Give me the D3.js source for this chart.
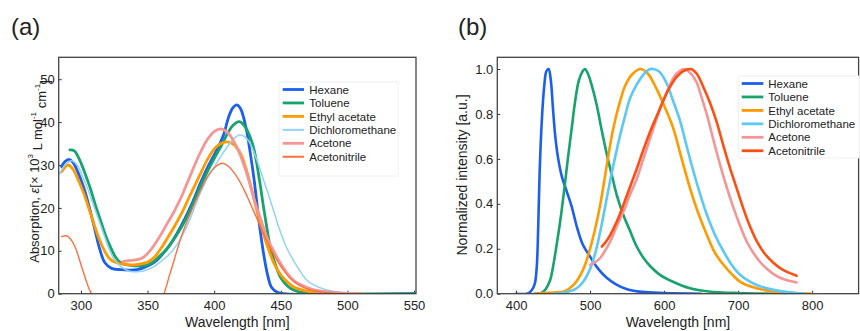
<!DOCTYPE html>
<head>
<meta charset="utf-8">
<style>
body { margin:0; background:#fff; }
text { font-family: 'Liberation Sans', Arial, sans-serif; fill:#222; }
.axis path { display:none; }
.axis line { stroke:#333; stroke-width:1; }
</style>
</head>
<body>
<div id="chart"></div>
<script src="https://d3js.org/d3.v7.min.js"></script>
<script>

// ---- data ----
var solvents = ["Hexane", "Toluene", "Ethyl acetate", "Dichloromethane", "Acetone", "Acetonitrile"];

var absTicksX = [300, 350, 400, 450, 500, 550],
    absTicksY = [0, 10, 20, 30, 40, 50];
var emTicksX = [400, 500, 600, 700, 800],
    emTicksY = [0, 0.2, 0.4, 0.6, 0.8, 1.0];

// (a) absorption, [wavelength nm, eps x10^3]
var absHexane = [[285.5,29.6],[288,30.8],[291,31.3],[294,30.6],[298,28.1],[302,24.8],[306,20.5],[310,15.5],[314,10.5],[318,7.2],[323,5.9],[330,5.6],[336,5.5],[342,5.6],[348,6.2],[355,7.3],[360,8.8],[366,11],[372,14],[378,17.5],[384,21.5],[390,26],[396,30],[402,33.5],[407,37],[411,41.3],[414,43.3],[417,44],[420,43],[424,38.5],[427,33],[430,26.5],[434,16],[437,9.5],[440,4.5],[443,1.5],[447,0.4],[452,0],[551,0]];
var absToluene = [[291.7,33.5],[295,33.3],[299,31.2],[303,28.1],[307,24.6],[311,20.5],[315,16.8],[318,14],[322,11],[326,8.5],[330,7.2],[335,6.7],[340,6.5],[345,6.5],[350,6.7],[355,7.6],[360,9],[365,10.7],[370,12.8],[376,15.8],[382,19.5],[389,24.5],[395,28.5],[400,31.5],[405,34.3],[410,37.3],[414,39.2],[419,40.1],[423,39],[427,36.5],[430,33.5],[434,26.5],[437,20.3],[440,14.5],[442,11],[446,6.8],[450,3.7],[455,1.8],[460,0.8],[466,0.3],[472,0.1],[480,0],[551,0]];
var absEthyl = [[285.5,28.4],[288,29.5],[290.5,30],[294,29],[298,26.5],[302,23.5],[306,19.8],[310,16],[314,12.5],[318,9.8],[322,8],[328,7.1],[334,6.8],[340,6.7],[346,7],[351,7.5],[356,8.8],[361,11],[365,13],[370,15.6],[376,19],[382,23],[389,27.5],[395,31.3],[400,33.7],[405,35],[410,35.4],[415,34.7],[420,32.5],[424,29],[428,24.5],[432,19.5],[436,15],[440,11],[445,7],[450,4.4],[455,2.7],[460,1.5],[467,0.8],[475,0.4],[490,0.1],[510,0]];
var absDcm = [[284.2,28],[288,30],[293,31],[297,30],[301,27.5],[305,24.5],[309,21],[313,17.5],[317,14],[321,10.5],[325,8],[330,6.3],[336,5.3],[342,5.1],[348,5.4],[354,6.2],[360,7.5],[365,8.8],[370,10.5],[376,13.5],[382,17.5],[389,23],[395,27],[400,29.5],[405,32],[410,34.3],[415,36.2],[419,37],[423,36.6],[427,35],[432,31.2],[436,27.5],[440,23.8],[445,19],[449,15],[454,11],[459,8],[464,5.5],[469,3.3],[475,2],[484,0.9],[492,0.4],[500,0.1],[510,0]];
var absAcetone = [[331.5,7.5],[336,7.7],[341,7.9],[346,8.3],[351,9.7],[356,11.8],[361,14.3],[365,16.5],[370,19.2],[376,23],[382,27.5],[389,32.5],[395,36],[400,37.8],[405,38.4],[410,37.6],[414,35.9],[418,33.5],[422,30.3],[426,26.5],[430,22],[435,17.3],[440,12.8],[445,9.7],[450,7],[455,4.7],[460,3],[467,1.8],[475,0.9],[485,0.4],[495,0.2],[510,0]];
var absAcetonitrile = [[285.5,13.3],[289,13.5],[292,12.8],[295.5,11],[298,8.8],[300.5,6.3],[303,3.9],[305.5,1.6],[307.8,0],[309,-1],null,[361.5,-1],[362.5,0],[366,3.8],[370,7.9],[374,12],[378,15.6],[383,19.3],[389,23.6],[395,27.3],[400,29.3],[406,30.4],[411,29.6],[417,27.3],[422,24.5],[427,21.1],[432,17.6],[437,14.1],[442,10.8],[447,7.9],[452,5.5],[457,3.6],[463,2.1],[469,1.2],[478,0.5],[490,0.1],[500,0]];

// (b) emission, [wavelength nm, normalized intensity]
var emHexane = [[400,0],[415,0],[420,0.01],[425,0.04],[428,0.12],[430,0.3],[432,0.55],[435,0.78],[438,0.92],[441,0.99],[444,1.0],[447,0.95],[450,0.82],[453,0.7],[457,0.6],[462,0.52],[468,0.46],[475,0.39],[482,0.3],[490,0.22],[500,0.165],[510,0.115],[522,0.072],[535,0.042],[550,0.02],[570,0.008],[600,0.003],[650,0]];
var emToluene = [[425,0],[435,0.005],[440,0.02],[446,0.06],[450,0.12],[455,0.22],[460,0.33],[465,0.46],[470,0.6],[475,0.73],[480,0.86],[485,0.95],[490,0.99],[493,1.0],[497,0.98],[502,0.93],[509,0.84],[515,0.74],[522,0.63],[530,0.52],[536,0.44],[545,0.35],[554,0.28],[563,0.21],[572,0.16],[582,0.12],[594,0.085],[612,0.053],[635,0.024],[660,0.01],[700,0.003],[770,0]];
var emEthyl = [[425,0],[450,0.005],[465,0.01],[478,0.04],[491,0.11],[500,0.2],[507,0.29],[514,0.4],[522,0.56],[531,0.73],[540,0.85],[548,0.93],[558,0.98],[568,1.0],[578,0.98],[590,0.91],[601,0.83],[612,0.74],[623,0.61],[635,0.47],[646,0.36],[658,0.26],[669,0.18],[680,0.13],[692,0.085],[703,0.053],[725,0.024],[748,0.01],[770,0.004],[800,0]];
var emDcm = [[450,0],[465,0.005],[480,0.02],[490,0.05],[500,0.11],[507,0.18],[514,0.28],[520,0.38],[527,0.5],[534,0.61],[541,0.71],[548,0.8],[554,0.87],[563,0.93],[572,0.975],[580,0.998],[585,1.0],[593,0.99],[603,0.94],[612,0.86],[622,0.765],[631,0.65],[640,0.54],[649,0.44],[658,0.35],[669,0.26],[680,0.19],[691,0.13],[703,0.083],[725,0.039],[748,0.017],[770,0.006],[790,0]];
var emAcetone = [[500,0.128],[507,0.14],[514,0.16],[520,0.19],[527,0.23],[536,0.3],[545,0.365],[554,0.44],[563,0.51],[572,0.6],[581,0.69],[590,0.78],[599,0.86],[608,0.93],[617,0.98],[628,1.0],[636,0.98],[644,0.94],[651,0.87],[658,0.795],[667,0.68],[676,0.57],[685,0.47],[694,0.38],[703,0.3],[712,0.23],[721,0.18],[730,0.14],[740,0.108],[750,0.083],[762,0.064],[779,0.05]];
var emAcetonitrile = [[516,0.21],[520,0.225],[527,0.26],[536,0.32],[545,0.395],[554,0.475],[563,0.555],[572,0.64],[581,0.72],[590,0.79],[599,0.86],[608,0.92],[617,0.965],[626,0.99],[636,1.0],[644,0.98],[653,0.92],[662,0.85],[671,0.765],[680,0.66],[689,0.56],[698,0.47],[707,0.38],[716,0.3],[725,0.235],[736,0.178],[748,0.137],[760,0.107],[779,0.08]];

var absSeries = [absHexane, absToluene, absEthyl, absDcm, absAcetone, absAcetonitrile];
var emSeries = [emHexane, emToluene, emEthyl, emDcm, emAcetone, emAcetonitrile];

var absColors = ["#1a5ff0", "#17a36c", "#ff9a00", "#8fd3f6", "#f59596", "#ff7040"],
    emColors = ["#1a5ff0", "#17a36c", "#ff9a00", "#5cc8f6", "#f59596", "#ff4e12"],
    absWidths = [2.8, 2.8, 2.8, 1.5, 2.8, 1.4],
    emWidths = [2.6, 2.6, 2.6, 2.6, 2.6, 2.6];

var svg = d3.select('#chart')
  .append('svg')
    .attr('width', 860)
    .attr('height', 331);

function panel(opt) {
  var x = d3.scaleLinear().domain(opt.xDomain).range([opt.left, opt.right]),
      y = d3.scaleLinear().domain(opt.yDomain).range([opt.bottom, opt.top]);

  svg.append("clipPath").attr("id", opt.id + "clip")
    .append("rect")
      .attr("x", opt.left).attr("y", opt.top)
      .attr("width", opt.right - opt.left).attr("height", opt.bottom - opt.top);

  svg.append("g")
      .attr("class", "axis")
      .attr("transform", "translate(0," + opt.bottom + ")")
      .call(d3.axisBottom(x).tickValues(opt.xTicks).tickSize(-3).tickPadding(7).tickFormat(d3.format("d")))
    .selectAll("text")
      .style("font-size", "13px")
      .style("fill", "#222");

  svg.append("g")
      .attr("class", "axis")
      .attr("transform", "translate(" + opt.left + ",0)")
      .call(d3.axisLeft(y).tickValues(opt.yTicks).tickSize(-3).tickPadding(4).tickFormat(opt.yFormat))
    .selectAll("text")
      .style("font-size", "13px")
      .style("fill", "#222");

  var line = d3.line()
      .defined(function(d) { return d !== null; })
      .x(function(d) { return x(d[0]); })
      .y(function(d) { return y(d[1]); })
      .curve(d3.curveCatmullRom.alpha(0.5));

  svg.append("g")
      .attr("clip-path", "url(#" + opt.id + "clip)")
    .selectAll("path")
    .data(opt.series)
    .enter().append("path")
      .attr("d", line)
      .attr("fill", "none")
      .attr("stroke", function(d, i) { return opt.colors[i]; })
      .attr("stroke-width", function(d, i) { return opt.widths[i]; })
      .attr("stroke-linejoin", "round")
      .attr("stroke-linecap", "round");

  // frame
  svg.append("rect")
      .attr("x", opt.left).attr("y", opt.top)
      .attr("width", opt.right - opt.left).attr("height", opt.bottom - opt.top)
      .attr("fill", "none")
      .attr("stroke", "#444")
      .attr("stroke-width", 1.3);

  // legend
  var lg = opt.legend;
  svg.append("rect")
      .attr("x", lg.boxX).attr("y", lg.boxY)
      .attr("width", lg.boxW).attr("height", lg.boxH)
      .attr("fill", "#fff")
      .attr("stroke", "#f0f0f0");

  var items = svg.selectAll(".leg" + opt.id)
    .data(solvents)
    .enter().append("g")
      .attr("class", "leg" + opt.id)
      .attr("transform", function(d, i) { return "translate(0," + (lg.y0 + i * lg.dy) + ")"; });

  items.append("line")
      .attr("x1", lg.x1).attr("x2", lg.x2)
      .attr("stroke", function(d, i) { return opt.colors[i]; })
      .attr("stroke-width", function(d, i) { return opt.widths[i] < 2 ? 2 : 2.8; });

  items.append("text")
      .attr("x", lg.tx)
      .attr("dy", "0.36em")
      .attr("font-size", "11.5px")
      .text(function(d) { return d; });

  // x label
  svg.append("text")
      .attr("x", (opt.left + opt.right) / 2)
      .attr("y", 327)
      .attr("text-anchor", "middle")
      .attr("font-size", "14px")
      .text("Wavelength [nm]");

  svg.append("text")
      .attr("x", opt.tagX)
      .attr("y", 35)
      .attr("font-size", "24px")
      .text(opt.tag);
}

panel({
  id: "a", tag: "(a)", tagX: 11,
  left: 58.7, right: 416, top: 57.3, bottom: 293.7,
  xDomain: [283.3, 551.5], yDomain: [0, 55.1],
  xTicks: absTicksX, yTicks: absTicksY, yFormat: d3.format("d"),
  series: absSeries, colors: absColors, widths: absWidths,
  legend: { boxX: 279, boxY: 82, boxW: 119, boxH: 94, x1: 282.7, x2: 304, tx: 309.3, y0: 89.5, dy: 13.45 }
});

panel({
  id: "b", tag: "(b)", tagX: 458,
  left: 497.3, right: 858.6, top: 57.3, bottom: 293.7,
  xDomain: [374.7, 862.8], yDomain: [0, 1.052],
  xTicks: emTicksX, yTicks: emTicksY, yFormat: d3.format(".1f"),
  series: emSeries, colors: emColors, widths: emWidths,
  legend: { boxX: 738.3, boxY: 76, boxW: 121, boxH: 82, x1: 741.7, x2: 763.3, tx: 768.3, y0: 83.5, dy: 13.45 }
});

// y labels
var ya = svg.append("text")
    .attr("transform", "translate(38.5,171.5) rotate(-90)")
    .attr("text-anchor", "middle")
    .attr("font-size", "13px");
ya.append("tspan").text("Absorption, ");
ya.append("tspan").attr("font-style", "italic").text("ε");
ya.append("tspan").text("[× 10");
ya.append("tspan").attr("dy", "-0.7em").attr("font-size", "8px").text("3");
ya.append("tspan").attr("dy", "0.7em").text(" L mol");
ya.append("tspan").attr("dy", "-0.7em").attr("font-size", "8px").text("-1");
ya.append("tspan").attr("dy", "0.7em").text(" cm");
ya.append("tspan").attr("dy", "-0.7em").attr("font-size", "8px").text("-1");
ya.append("tspan").attr("dy", "0.7em").text("]");

svg.append("text")
    .attr("transform", "translate(467,175) rotate(-90)")
    .attr("text-anchor", "middle")
    .attr("font-size", "14px")
    .text("Normalized intensity [a.u.]");

</script>
</body>
